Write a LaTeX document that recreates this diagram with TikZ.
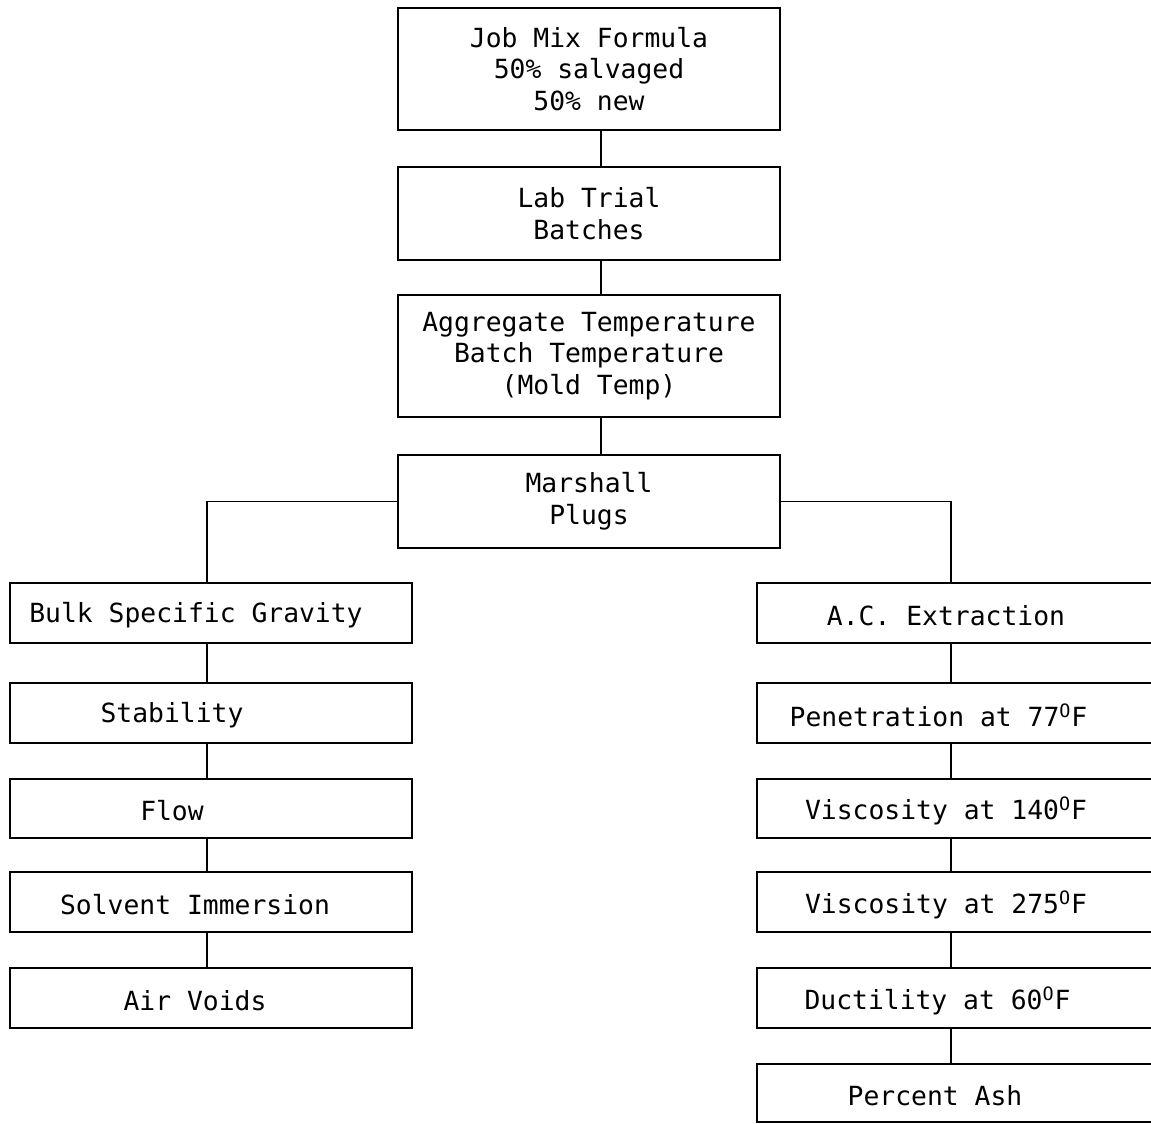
\documentclass[tikz,border=0pt]{standalone}
\usepackage{fontspec}
\newfontfamily\tmono{DejaVu Sans Mono}
\usetikzlibrary{positioning}

\begin{document}
\begin{tikzpicture}[
  tfont/.style={font=\tmono\fontsize{15pt}{18pt}\selectfont},
  box/.style={draw, line width=1.1pt, inner sep=0pt, align=center, tfont},
  wide/.style={box, minimum width=7.64cm},
  side/.style={box, minimum width=8.04cm, minimum height=1.2cm},
  rside/.style={box, minimum width=8.46cm, minimum height=1.2cm},
  txt/.style 2 args={label={[tfont, xshift=#1, yshift=-0.05cm]center:#2}},
  link/.style={line width=1.1pt},
]
\useasboundingbox (0,0) rectangle (23.02,-22.48);
\clip (0,0) rectangle (23.02,-22.48);

\coordinate (cspine) at (12.02,0);
\coordinate (lspine) at (4.14,0);
\coordinate (rspine) at (19.02,0);

\node[wide, minimum height=2.44cm] (jmf) at (11.78,-1.38) {Job Mix Formula\\50\% salvaged\\50\% new};
\node[wide, minimum height=1.86cm] (lab) at (11.78,-4.27) {Lab Trial\\Batches};
\node[wide, minimum height=2.44cm] (agg) at (11.78,-7.12) {Aggregate Temperature\\Batch Temperature\\(Mold Temp)};
\node[wide, minimum height=1.86cm] (mar) at (11.78,-10.03) {Marshall\\Plugs};

% left column
\node[side, txt={-0.30cm}{Bulk Specific Gravity}] (bulk) at (4.22,-12.26) {};
\node[side, txt={-0.78cm}{Stability}] (stab) at (4.22,-14.26) {};
\node[side, minimum height=1.18cm, txt={-0.78cm}{Flow}] (flow) at (4.22,-16.17) {};
\node[side, txt={-0.32cm}{Solvent Immersion}] (solv) at (4.22,-18.04) {};
\node[side, txt={-0.32cm}{Air Voids}] (air) at (4.22,-19.96) {};

% right column
\node[rside, txt={-0.45cm}{A.C. Extraction}] (ace) at (19.37,-12.26) {};
\node[rside, txt={-0.60cm}{Penetration at 77\textsuperscript{O}F}] (pen) at (19.37,-14.26) {};
\node[rside, minimum height=1.18cm, txt={-0.45cm}{Viscosity at 140\textsuperscript{O}F}] (vlow) at (19.37,-16.17) {};
\node[rside, txt={-0.45cm}{Viscosity at 275\textsuperscript{O}F}] (vhigh) at (19.37,-18.04) {};
\node[rside, txt={-0.62cm}{Ductility at 60\textsuperscript{O}F}] (duct) at (19.37,-19.96) {};
\node[rside, minimum height=1.16cm, txt={-0.67cm}{Percent Ash}] (ash) at (19.37,-21.86) {};

\draw[link] (jmf.south -| cspine) -- (lab.north -| cspine);
\draw[link] (lab.south -| cspine) -- (agg.north -| cspine);
\draw[link] (agg.south -| cspine) -- (mar.north -| cspine);
\draw[link] (mar.west) -| (bulk.north -| lspine);
\draw[link] (mar.east) -| (ace.north -| rspine);

\draw[link] (bulk.south -| lspine) -- (stab.north -| lspine);
\draw[link] (stab.south -| lspine) -- (flow.north -| lspine);
\draw[link] (flow.south -| lspine) -- (solv.north -| lspine);
\draw[link] (solv.south -| lspine) -- (air.north -| lspine);

\draw[link] (ace.south -| rspine) -- (pen.north -| rspine);
\draw[link] (pen.south -| rspine) -- (vlow.north -| rspine);
\draw[link] (vlow.south -| rspine) -- (vhigh.north -| rspine);
\draw[link] (vhigh.south -| rspine) -- (duct.north -| rspine);
\draw[link] (duct.south -| rspine) -- (ash.north -| rspine);
\end{tikzpicture}
\end{document}
